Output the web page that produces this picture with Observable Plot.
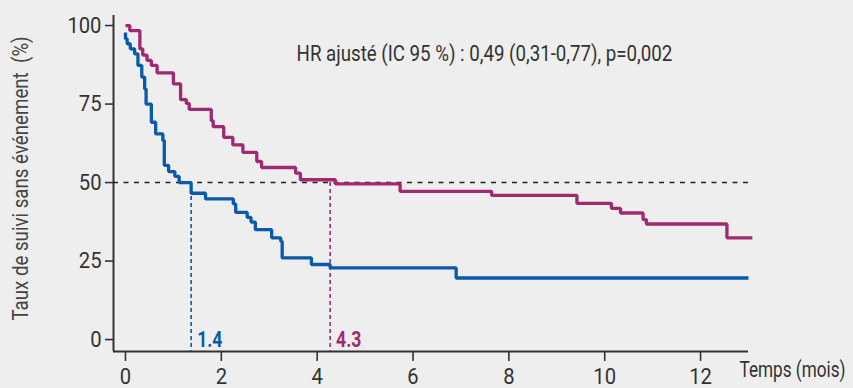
<!DOCTYPE html>
<html>
<head>
<meta charset="utf-8">
<script src="https://cdn.jsdelivr.net/npm/d3@7"></script>
<script src="https://cdn.jsdelivr.net/npm/@observablehq/plot@0.6"></script>
<style>
  html, body { margin: 0; padding: 0; background: #eeeeee; }
  #chart svg { display: block; }
</style>
</head>
<body>
<div id="chart"></div>
<script>
// ---- data ----
const blueTime = [0, 0, 0.035, 0.10, 0.19, 0.26, 0.34, 0.40, 0.43, 0.54, 0.63, 0.78, 0.81, 0.90, 1.03, 1.12, 1.37, 1.67, 2.25, 2.30, 2.54, 2.62, 2.71, 3.05, 3.24, 3.27, 3.88, 4.27, 6.90, 13.0];
const blueSurv = [97.8, 95.8, 94.2, 92.6, 91.0, 87.3, 83.6, 79.8, 75.0, 69.2, 65.5, 63.4, 55.5, 53.5, 52.0, 50.0, 46.6, 44.8, 43.2, 40.5, 38.9, 37.4, 35.0, 32.4, 31.3, 26.0, 23.9, 22.8, 19.6, 19.6];
const magentaTime = [0, 0.09, 0.30, 0.36, 0.45, 0.54, 0.66, 1.00, 1.15, 1.27, 1.33, 1.79, 1.83, 2.05, 2.24, 2.45, 2.74, 2.84, 3.55, 3.65, 4.38, 5.73, 7.64, 9.42, 10.14, 10.33, 10.80, 10.87, 12.55, 13.08];
const magentaSurv = [100, 98.4, 92.6, 90.6, 88.9, 87.3, 84.9, 81.4, 76.4, 75.2, 73.3, 69.7, 67.8, 64.4, 62.0, 59.6, 56.7, 54.8, 53.0, 50.9, 49.6, 47.2, 45.9, 43.4, 41.8, 40.3, 38.2, 36.8, 32.4, 32.4];

const medianTimes = [1.37, 4.27];
const medianLabels = ["1.4", "4.3"];
const medianLevel = 50;

const xTicks = [0, 2, 4, 6, 8, 10, 12];
const yTicks = [0, 25, 50, 75, 100];
const xDomain = [-0.25, 13.0];
const yDomain = [-3.8, 103.2];

const xLabel = "Temps (mois)";
const yLabel = "Taux de suivi sans événement\u00a0 (%)";
const hrText = "HR ajusté (IC 95 %) : 0,49 (0,31-0,77), p=0,002";
const hrAt = {x: 7.49, y: 90.8};

const blueColor = "#0a5aab";
const magentaColor = "#a0296f";
const medianColors = [blueColor, magentaColor];
const axisColor = "#333333";
const font = "Roboto, 'Liberation Sans', sans-serif";
// horizontal squeeze to imitate a condensed face
const condenseText = 0.85;
const condenseTicks = 0.92;
const condenseMedian = 0.8;
const condenseXLabel = 0.78;

// ---- tables ----
const blue = blueTime.map((t, i) => ({t, s: blueSurv[i]}));
const magenta = magentaTime.map((t, i) => ({t, s: magentaSurv[i]}));
const medians = medianTimes.map((t, i) => ({t, label: medianLabels[i], color: medianColors[i]}));

const chart = Plot.plot({
  width: 853,
  height: 388,
  marginLeft: 113,
  marginRight: 105,
  marginTop: 15,
  marginBottom: 37,
  x: {domain: xDomain},
  y: {domain: yDomain},
  style: {background: "transparent", fontFamily: font, fontSize: "22px", color: axisColor},
  marks: [
    Plot.axisX({ticks: xTicks, tickSize: 10, tickPadding: 7, label: null, strokeWidth: 1.6, color: axisColor}),
    Plot.axisY({ticks: yTicks, tickSize: 8, tickPadding: 4, label: null, strokeWidth: 1.6, color: axisColor}),
    Plot.ruleX([xDomain[0]], {stroke: axisColor, strokeWidth: 2}),
    Plot.ruleY([yDomain[0]], {stroke: axisColor, strokeWidth: 2}),
    Plot.ruleY([medianLevel], {stroke: "#222", strokeWidth: 1.6, strokeDasharray: "5,5.5"}),
    Plot.ruleX(medians, {x: "t", y1: medianLevel, y2: yDomain[0], stroke: "color", strokeWidth: 1.6, strokeDasharray: "4,3"}),
    Plot.line(magenta, {x: "t", y: "s", curve: "step-after", stroke: magentaColor, strokeWidth: 3.3, strokeLinejoin: "miter", strokeLinecap: "butt"}),
    Plot.line(blue, {x: "t", y: "s", curve: "step-after", stroke: blueColor, strokeWidth: 3.3, strokeLinejoin: "miter", strokeLinecap: "butt"}),
    Plot.text(medians, {x: "t", y: 0, text: "label", fill: "color", textAnchor: "start", dx: 6, fontWeight: "bold", fontSize: 22}),
    Plot.text([hrText], {x: hrAt.x, y: hrAt.y, fill: "#333", fontSize: 22}),
    Plot.text([xLabel], {frameAnchor: "bottom-right", textAnchor: "start", lineAnchor: "middle", dx: -9, dy: 18, fill: "#333", fontSize: 22}),
    Plot.text([yLabel], {frameAnchor: "left", textAnchor: "middle", lineAnchor: "middle", rotate: -90, dx: -93, dy: -5, fill: "#444", fontSize: 22})
  ]
});

// squeeze every text horizontally around its own anchor
chart.querySelectorAll("text").forEach((el) => {
  const content = el.textContent;
  let s = condenseText;
  if (el.closest('[aria-label$="tick label"]')) s = condenseTicks;
  else if (medianLabels.includes(content)) s = condenseMedian;
  else if (content === xLabel) s = condenseXLabel;
  const x = +(el.getAttribute("x") || 0);
  const t = el.getAttribute("transform") || "";
  el.setAttribute("transform", `${t} translate(${x},0) scale(${s},1) translate(${-x},0)`);
});

document.getElementById("chart").appendChild(chart);
</script>
</body>
</html>
